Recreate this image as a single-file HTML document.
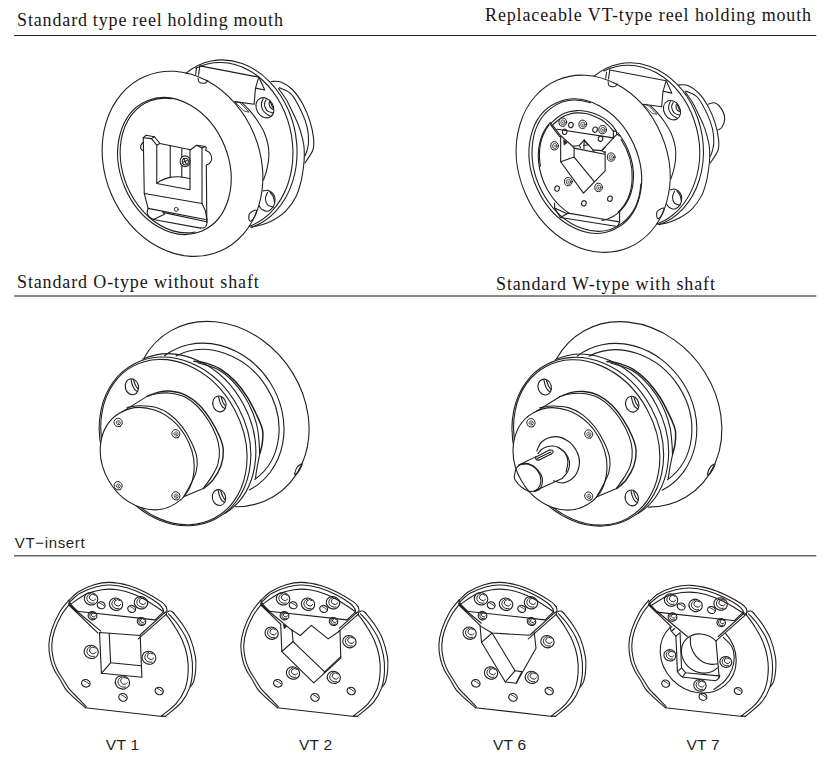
<!DOCTYPE html>
<html><head><meta charset="utf-8">
<style>
html,body{margin:0;padding:0;background:#fff;}
body{width:831px;height:770px;position:relative;overflow:hidden;font-family:"Liberation Serif",serif;color:#1a1414;}
.t{position:absolute;white-space:nowrap;font-size:18px;letter-spacing:0.87px;word-spacing:-0.5px;line-height:20px;}
.s{position:absolute;white-space:nowrap;font-family:"Liberation Sans",sans-serif;font-size:15.5px;letter-spacing:0.3px;line-height:18px;color:#231f20;}
svg{position:absolute;left:0;top:0;}
</style></head><body>
<div class="t" style="left:17px;top:10px;">Standard type reel holding mouth</div>
<div class="t" style="left:485px;top:5px;word-spacing:0.25px;">Replaceable VT-type reel holding mouth</div>
<div class="t" style="left:17px;top:272px;word-spacing:0px;">Standard O-type without shaft</div>
<div class="t" style="left:496px;top:274px;word-spacing:0px;">Standard W-type with shaft</div>
<div class="s" style="left:14.8px;top:534px;font-size:15px;letter-spacing:0.65px;">VT−insert</div>
<div class="s" style="left:105.8px;top:736.3px;">VT 1</div>
<div class="s" style="left:298.9px;top:736.3px;">VT 2</div>
<div class="s" style="left:492.9px;top:736.3px;">VT 6</div>
<div class="s" style="left:686.4px;top:736.3px;">VT 7</div>
<svg width="831" height="770" viewBox="0 0 831 770" fill="none" stroke="#241d1d" stroke-width="1.1" stroke-linecap="round" stroke-linejoin="round">
<path d="M14 35.5H816.3" stroke="#2a2222" stroke-width="1.2" stroke-linecap="butt"/>
<path d="M14 296H816.3" stroke="#6a6565" stroke-width="1.6" stroke-linecap="butt"/>
<path d="M14 555.8H816.3" stroke="#6a6565" stroke-width="1.5" stroke-linecap="butt"/>
<g id="d1">
<path d="M219.66 251.34 A95.1 77.4 67 1 1 145.34 76.26 A95.1 77.4 67 1 1 219.66 251.34 Z"/>
<path d="M242.2 103.1 C243.42 104.32 247.07 107.63 249.5 110.4 C251.93 113.17 254.37 116.07 256.8 119.7 C259.23 123.33 262.2 127.87 264.1 132.2 C266 136.53 267.43 141.37 268.2 145.7 C268.97 150.03 268.97 154.05 268.7 158.2 C268.43 162.35 267.47 166.97 266.6 170.6 C265.73 174.23 264.02 178.43 263.5 180"/>
<path d="M201.42 231.23 A70.6 54 67.5 1 1 147.38 100.77 A70.6 54 67.5 1 1 201.42 231.23 Z"/>
<path d="M195.29 231.99 A69.6 52.8 67.5 1 1 172.18 98.68"/>
<path d="M185.85 73.35 A85.7 68.6 79.3 1 1 251.81 227.13"/>
<path d="M195.78 68.26 A84 66.6 79.3 1 1 249.16 226.32"/>
<path d="M278.6 88.6 C279.92 90.5 284.12 95.95 286.5 100 C288.88 104.05 290.98 108.9 292.9 112.9 C294.82 116.9 296.58 120.43 298 124 C299.42 127.57 300.43 130.8 301.4 134.3 C302.37 137.8 303.32 141.45 303.8 145 C304.28 148.55 304.33 152.1 304.3 155.6 C304.27 159.1 304.15 161.67 303.6 166 C303.05 170.33 302.3 176.42 301 181.6 C299.7 186.78 298.38 192.13 295.8 197.1 C293.22 202.07 289.38 207.5 285.5 211.4 C281.62 215.3 276.42 218.27 272.5 220.5 C268.58 222.73 265.68 223.67 262 224.8 C258.32 225.93 252.33 226.88 250.4 227.3"/>
<path d="M271.43 81.43 C273.1 81.55 277.86 80.71 281.43 82.14 C285 83.57 289.29 86.31 292.86 90 C296.43 93.69 300 99.05 302.86 104.29 C305.71 109.52 308.21 115.71 310 121.43 C311.79 127.14 313.1 133.81 313.57 138.57 C314.05 143.33 314.29 145.95 312.86 150 C311.43 154.05 306.31 160.71 305 162.86"/>
<path d="M279.29 87.86 C281.31 88.93 287.74 90.36 291.43 94.29 C295.12 98.21 298.81 105.95 301.43 111.43 C304.05 116.9 305.95 122.14 307.14 127.14 C308.33 132.14 308.57 137.62 308.57 141.43 C308.57 145.24 307.74 147.62 307.14 150 C306.55 152.38 305.36 154.76 305 155.71"/>
<path d="M270.2 116.98 A10.6 8.4 60 1 1 259.6 98.62 A10.6 8.4 60 1 1 270.2 116.98 Z"/>
<path d="M263.2 98.9 C262.9 99.68 261.55 101.9 261.4 103.6 C261.25 105.3 261.62 107.5 262.3 109.1 C262.98 110.7 264.22 112.07 265.5 113.2 C266.78 114.33 269.25 115.45 270 115.9"/>
<path d="M266.1 99.8 C265.83 100.43 264.6 102.2 264.5 103.6 C264.4 105 264.88 106.9 265.5 108.2 C266.12 109.5 267 110.65 268.2 111.4 C269.4 112.15 271.95 112.48 272.7 112.7"/>
<path d="M269.5 101.4 C269.43 101.92 268.93 103.45 269.1 104.5 C269.27 105.55 269.82 106.87 270.5 107.7 C271.18 108.53 272.75 109.2 273.2 109.5"/>
<path d="M270.5 102.3 C270.72 102.83 271.32 104.52 271.8 105.5 C272.28 106.48 273.13 107.75 273.4 108.2"/>
<path d="M263.12 190.91 C263.92 190.82 266.26 189.89 267.92 190.39 C269.59 190.89 271.93 192.45 273.12 193.9 C274.31 195.35 275 197.03 275.06 199.09 C275.13 201.15 274.7 204.22 273.51 206.23 C272.32 208.25 269.83 210.63 267.92 211.17 C266.02 211.71 263.53 210.35 262.08 209.48 C260.63 208.61 259.7 206.56 259.22 205.97"/>
<path d="M267.53 192.34 C267.19 193.35 265.45 196.34 265.45 198.44 C265.45 200.54 266.26 203.48 267.53 204.94 C268.81 206.39 272.19 206.77 273.12 207.14"/>
<path d="M270.13 192.34 C270.65 193.07 272.51 195.09 273.25 196.75 C273.98 198.42 274.33 201.41 274.55 202.34"/>
<path d="M248.83 217.92 C248.72 216.62 248.51 214.68 249.74 213.38 C250.97 212.08 255.37 209.7 256.23 210.13 C257.1 210.56 255.91 214.13 254.94 215.97 C253.96 217.81 251.41 220.84 250.39 221.17 C249.37 221.49 248.94 219.22 248.83 217.92Z"/>
<path d="M199.86 65.88 L258.76 77.14 L255.45 88.39 L254.13 104.27 L234.93 101.62"/>
<path d="M199.86 65.88 L198.53 75.15"/>
<path d="M196.55 67.87 L195.62 74.49"/>
<path d="M255.72 88.12 L264.72 89.98 L259.03 77.4"/>
<path d="M235.2 102.02 L239.83 102.68 L249.1 112.21 L244.6 111.16Z" stroke-width="0.8"/>
<path d="M198.13 78.06 C198.31 78.75 198.02 81.33 199.19 82.17 C200.36 83 203.72 83.38 205.15 83.09 C206.58 82.81 207.36 80.89 207.8 80.45"/>
<path d="M143.29 137.7 L146.18 135.29 L154.36 136.74 L159.94 143.47 L190.45 149.73 L196.71 145.21 L205.37 146.55 L206.33 147.81 L205.85 150.21"/>
<path d="M143.29 137.7 L151.47 138.66 L154.36 136.74"/>
<path d="M151.47 138.66 L156.77 145.21 L159.94 143.47"/>
<path d="M156.77 145.21 L156.77 183.42 L189.97 189.67 L189.97 150.4"/>
<path d="M196.71 145.21 L202 147.9 L205.37 146.55"/>
<path d="M170.24 146.36 L170.24 177.35"/>
<path d="M181.79 148.77 L181.79 156.95"/>
<path d="M181.79 165.8 L181.79 176.97"/>
<path d="M156.77 183.42 C157.41 182.98 159.25 181.57 160.62 180.82 C161.98 180.06 163.34 179.47 164.95 178.89 C166.55 178.32 168.32 177.71 170.24 177.35 C172.17 177 174.57 176.84 176.5 176.78 C178.42 176.71 179.55 176.66 181.79 176.97 C184.04 177.27 188.61 178.33 189.97 178.6"/>
<path d="M205.85 150.21 C206.5 150.66 208.73 151.54 209.7 152.91 C210.68 154.27 211.72 156.68 211.72 158.39 C211.72 160.11 210.6 162.08 209.7 163.21 C208.81 164.33 206.9 164.81 206.33 165.13"/>
<path d="M143 142.32 C142.65 142.83 141.24 144.32 140.89 145.4 C140.53 146.47 140.53 147.89 140.89 148.77 C141.24 149.65 142.65 150.37 143 150.69"/>
<path d="M190.16 161.28 A5 5.4 0 1 1 180.16 161.28 A5 5.4 0 1 1 190.16 161.28 Z"/>
<path d="M188.36 161.58 A3 3.4 0 1 1 182.36 161.58 A3 3.4 0 1 1 188.36 161.58 Z"/>
<path d="M184.01 158.87 L186.12 163.69"/>
<path d="M183.24 162.24 L187.09 160.61"/>
<path d="M143.29 137.7 L144.26 193.47"/>
<path d="M202 147.9 L202 203.58"/>
<path d="M206.33 165.13 L206.82 222.35"/>
<path d="M148.11 208.39 L144.26 193.47 L202 203.58 L205.37 210.8 L206.82 218.98"/>
<path d="M148.11 208.39 L205.37 219.46"/>
<path d="M163.99 212.63 L206.62 221.67"/>
<path d="M148.11 208.39 C147.95 209.11 146.9 211.28 147.14 212.72 C147.38 214.17 148.51 215.93 149.55 217.05 C150.59 218.18 152.76 219.06 153.4 219.46"/>
<path d="M162.54 211.57 L164.47 214.17 L153.4 219.46 L200.56 228.12"/>
<path d="M200.56 228.12 C201.28 227.99 203.85 228.08 204.89 227.35 C205.93 226.63 206.5 225.27 206.82 223.79 C207.14 222.32 206.82 219.38 206.82 218.5"/>
<path d="M178.31 209.36 A2 2 0 1 1 174.31 209.36 A2 2 0 1 1 178.31 209.36 Z" stroke-width="0.9"/>
</g>
<g id="d2">
<g transform="translate(418.5,7) scale(0.957)" stroke-width="1.1">
<path d="M219.66 251.34 A95.1 77.4 67 1 1 145.34 76.26 A95.1 77.4 67 1 1 219.66 251.34 Z"/>
<path d="M242.2 103.1 C243.42 104.32 247.07 107.63 249.5 110.4 C251.93 113.17 254.37 116.07 256.8 119.7 C259.23 123.33 262.2 127.87 264.1 132.2 C266 136.53 267.43 141.37 268.2 145.7 C268.97 150.03 268.97 154.05 268.7 158.2 C268.43 162.35 267.47 166.97 266.6 170.6 C265.73 174.23 264.02 178.43 263.5 180"/>
<path d="M183.51 72.22 A86.8 70.4 79 1 1 251.61 227.53"/>
<path d="M193.72 66.94 A85.1 68.4 79 1 1 248.95 226.72"/>
<path d="M278.6 88.6 C279.92 90.5 284.12 95.95 286.5 100 C288.88 104.05 290.98 108.9 292.9 112.9 C294.82 116.9 296.58 120.43 298 124 C299.42 127.57 300.43 130.8 301.4 134.3 C302.37 137.8 303.32 141.45 303.8 145 C304.28 148.55 304.33 152.1 304.3 155.6 C304.27 159.1 304.15 161.67 303.6 166 C303.05 170.33 302.3 176.42 301 181.6 C299.7 186.78 298.38 192.13 295.8 197.1 C293.22 202.07 289.38 207.5 285.5 211.4 C281.62 215.3 276.42 218.27 272.5 220.5 C268.58 222.73 265.68 223.67 262 224.8 C258.32 225.93 252.33 226.88 250.4 227.3"/>
<path d="M271.43 81.43 C273.1 81.55 277.86 80.71 281.43 82.14 C285 83.57 289.29 86.31 292.86 90 C296.43 93.69 300 99.05 302.86 104.29 C305.71 109.52 308.21 115.71 310 121.43 C311.79 127.14 313.1 133.81 313.57 138.57 C314.05 143.33 314.29 145.95 312.86 150 C311.43 154.05 306.31 160.71 305 162.86"/>
<path d="M279.29 87.86 C281.31 88.93 287.74 90.36 291.43 94.29 C295.12 98.21 298.81 105.95 301.43 111.43 C304.05 116.9 305.95 122.14 307.14 127.14 C308.33 132.14 308.57 137.62 308.57 141.43 C308.57 145.24 307.74 147.62 307.14 150 C306.55 152.38 305.36 154.76 305 155.71"/>
<path d="M270.2 116.98 A10.6 8.4 60 1 1 259.6 98.62 A10.6 8.4 60 1 1 270.2 116.98 Z"/>
<path d="M263.2 98.9 C262.9 99.68 261.55 101.9 261.4 103.6 C261.25 105.3 261.62 107.5 262.3 109.1 C262.98 110.7 264.22 112.07 265.5 113.2 C266.78 114.33 269.25 115.45 270 115.9"/>
<path d="M266.1 99.8 C265.83 100.43 264.6 102.2 264.5 103.6 C264.4 105 264.88 106.9 265.5 108.2 C266.12 109.5 267 110.65 268.2 111.4 C269.4 112.15 271.95 112.48 272.7 112.7"/>
<path d="M269.5 101.4 C269.43 101.92 268.93 103.45 269.1 104.5 C269.27 105.55 269.82 106.87 270.5 107.7 C271.18 108.53 272.75 109.2 273.2 109.5"/>
<path d="M270.5 102.3 C270.72 102.83 271.32 104.52 271.8 105.5 C272.28 106.48 273.13 107.75 273.4 108.2"/>
<path d="M263.12 190.91 C263.92 190.82 266.26 189.89 267.92 190.39 C269.59 190.89 271.93 192.45 273.12 193.9 C274.31 195.35 275 197.03 275.06 199.09 C275.13 201.15 274.7 204.22 273.51 206.23 C272.32 208.25 269.83 210.63 267.92 211.17 C266.02 211.71 263.53 210.35 262.08 209.48 C260.63 208.61 259.7 206.56 259.22 205.97"/>
<path d="M267.53 192.34 C267.19 193.35 265.45 196.34 265.45 198.44 C265.45 200.54 266.26 203.48 267.53 204.94 C268.81 206.39 272.19 206.77 273.12 207.14"/>
<path d="M270.13 192.34 C270.65 193.07 272.51 195.09 273.25 196.75 C273.98 198.42 274.33 201.41 274.55 202.34"/>
<path d="M248.83 217.92 C248.72 216.62 248.51 214.68 249.74 213.38 C250.97 212.08 255.37 209.7 256.23 210.13 C257.1 210.56 255.91 214.13 254.94 215.97 C253.96 217.81 251.41 220.84 250.39 221.17 C249.37 221.49 248.94 219.22 248.83 217.92Z"/>
<path d="M199.86 65.88 L258.76 77.14 L255.45 88.39 L254.13 104.27 L234.93 101.62"/>
<path d="M199.86 65.88 L198.53 75.15"/>
<path d="M196.55 67.87 L195.62 74.49"/>
<path d="M255.72 88.12 L264.72 89.98 L259.03 77.4"/>
<path d="M235.2 102.02 L239.83 102.68 L249.1 112.21 L244.6 111.16Z" stroke-width="0.8"/>
<path d="M198.13 78.06 C198.31 78.75 198.02 81.33 199.19 82.17 C200.36 83 203.72 83.38 205.15 83.09 C206.58 82.81 207.36 80.89 207.8 80.45"/>
</g>
<path d="M708.1 104.2 C709.3 104.02 712.9 102.03 715.3 103.1 C717.7 104.17 720.93 107.9 722.5 110.6 C724.07 113.3 724.82 116.48 724.7 119.3 C724.58 122.12 722.92 125.77 721.8 127.5 C720.68 129.23 718.63 129.33 718 129.7"/>
<path d="M613.9 229.44 A69.5 52.7 65.7 1 1 556.7 102.76 A69.5 52.7 65.7 1 1 613.9 229.44 Z"/>
<path d="M640.85 183.95 A68 51.3 65.7 1 1 590.4 102.82"/>
<path d="M568.4 212.74 A57.3 45.1 64.5 0 1 550.31 122.32"/>
<path d="M617.75 132.48 A57.3 45.1 64.5 0 1 602.07 220.53"/>
<path d="M621.07 139.22 A57.3 45.1 64.5 0 1 618.18 211.98"/>
<path d="M540.41 166.26 A57.3 45.1 64.5 0 1 548.89 125.14"/>
<path d="M550.99 123.16 C551.59 122.61 552.92 121.21 554.6 119.84 C556.29 118.47 558.81 116.23 561.1 114.93 C563.39 113.63 565.67 112.76 568.32 112.04 C570.97 111.32 574.1 110.74 576.99 110.6 C579.87 110.45 582.76 110.69 585.65 111.17 C588.54 111.65 591.31 112.33 594.31 113.48 C597.32 114.64 600.81 116.25 603.7 118.1 C606.59 119.96 609.55 122.44 611.64 124.6 C613.74 126.77 615.49 130.02 616.26 131.1"/>
<path d="M553.16 124.31 C554.72 123.09 559.78 118.66 562.55 116.95 C565.31 115.24 567.36 114.74 569.77 114.06 C572.17 113.39 574.34 113 576.99 112.91 C579.63 112.81 583 113.03 585.65 113.48 C588.3 113.94 590.22 114.59 592.87 115.65 C595.52 116.71 599.01 118.27 601.53 119.84 C604.06 121.4 606.06 123.16 608.03 125.04 C610.01 126.91 612.48 130.09 613.38 131.1"/>
<path d="M613.38 131.1 L616.26 131.1 L616.84 134.28 L613.38 137.89"/>
<path d="M613.38 131.1 L613.38 137.89"/>
<path d="M557.06 129.22 L613.38 137.89"/>
<path d="M550.99 123.16 L560.67 135.72 L560.67 161.71 L583.48 193.19 L605.14 170.81 L605.14 151.61"/>
<path d="M549.98 123.88 L559.66 136.59"/>
<path d="M613.38 137.89 L602.26 150.16"/>
<path d="M616.84 134.28 L620.31 136.16"/>
<path d="M560.67 135.72 L572.65 146.26 L579.15 145.54 L584.21 139.77 L592.87 149.87 L601.53 150.6 L605.14 146.99"/>
<path d="M574.1 148.14 L604.71 154.21"/>
<path d="M572.65 146.26 L574.1 148.14 L574.1 157.09 L560.67 161.71"/>
<path d="M574.1 157.09 L594.31 181.64"/>
<path d="M579.15 145.54 L580.6 147.71"/>
<path d="M584.21 139.77 L583.92 148.72"/>
<path d="M583.48 145.54 L588.54 144.82 L584.21 140.92"/>
<path d="M592.87 149.87 L594.03 151.61"/>
<path d="M601.53 150.6 L604.71 152.47"/>
<path d="M563.7 140.05 L567.17 142.8 L564.28 144.96Z" stroke-width="0.6" fill="#241d1d"/>
<path d="M566.7 122.15 A3.86 4.2 0 1 1 558.97 122.15 A3.86 4.2 0 1 1 566.7 122.15 Z" stroke-width="1"/>
<path d="M565.17 122.35 A2.18 2.52 0 1 1 560.8 122.35 A2.18 2.52 0 1 1 565.17 122.35 Z" stroke-width="0.75"/>
<path d="M563.65 123.04 A0.67 0.92 0 1 1 563.47 121.65" stroke-width="0.7"/>
<path d="M586.63 124.31 A3.86 4.2 0 1 1 578.9 124.31 A3.86 4.2 0 1 1 586.63 124.31 Z" stroke-width="1"/>
<path d="M585.1 124.51 A2.18 2.52 0 1 1 580.73 124.51 A2.18 2.52 0 1 1 585.1 124.51 Z" stroke-width="0.75"/>
<path d="M583.58 125.21 A0.67 0.92 0 1 1 583.4 123.81" stroke-width="0.7"/>
<path d="M606.55 129.66 A3.86 4.2 0 1 1 598.83 129.66 A3.86 4.2 0 1 1 606.55 129.66 Z" stroke-width="1"/>
<path d="M605.02 129.86 A2.18 2.52 0 1 1 600.66 129.86 A2.18 2.52 0 1 1 605.02 129.86 Z" stroke-width="0.75"/>
<path d="M603.5 130.55 A0.67 0.92 0 1 1 603.33 129.16" stroke-width="0.7"/>
<path d="M558.47 145.83 A3.86 4.2 0 1 1 550.74 145.83 A3.86 4.2 0 1 1 558.47 145.83 Z" stroke-width="1"/>
<path d="M556.94 146.03 A2.18 2.52 0 1 1 552.57 146.03 A2.18 2.52 0 1 1 556.94 146.03 Z" stroke-width="0.75"/>
<path d="M555.42 146.72 A0.67 0.92 0 1 1 555.24 145.33" stroke-width="0.7"/>
<path d="M615.07 157.09 A3.86 4.2 0 1 1 607.35 157.09 A3.86 4.2 0 1 1 615.07 157.09 Z" stroke-width="1"/>
<path d="M613.54 157.29 A2.18 2.52 0 1 1 609.18 157.29 A2.18 2.52 0 1 1 613.54 157.29 Z" stroke-width="0.75"/>
<path d="M612.02 157.99 A0.67 0.92 0 1 1 611.85 156.59" stroke-width="0.7"/>
<path d="M572.19 181.64 A3.86 4.2 0 1 1 564.46 181.64 A3.86 4.2 0 1 1 572.19 181.64 Z" stroke-width="1"/>
<path d="M570.66 181.84 A2.18 2.52 0 1 1 566.29 181.84 A2.18 2.52 0 1 1 570.66 181.84 Z" stroke-width="0.75"/>
<path d="M569.14 182.54 A0.67 0.92 0 1 1 568.96 181.14" stroke-width="0.7"/>
<path d="M602.51 187.42 A3.86 4.2 0 1 1 594.78 187.42 A3.86 4.2 0 1 1 602.51 187.42 Z" stroke-width="1"/>
<path d="M600.98 187.62 A2.18 2.52 0 1 1 596.61 187.62 A2.18 2.52 0 1 1 600.98 187.62 Z" stroke-width="0.75"/>
<path d="M599.46 188.31 A0.67 0.92 0 1 1 599.28 186.92" stroke-width="0.7"/>
<path d="M573.14 125.63 A2.29 2.7 15 1 1 568.7 124.44 A2.29 2.7 15 1 1 573.14 125.63 Z"/>
<path d="M597.25 130.25 A2.29 2.7 15 1 1 592.82 129.06 A2.29 2.7 15 1 1 597.25 130.25 Z"/>
<path d="M566.93 132.42 A2.29 2.7 15 1 1 562.49 131.23 A2.29 2.7 15 1 1 566.93 132.42 Z"/>
<path d="M602.74 139.35 A2.29 2.7 15 1 1 598.31 138.16 A2.29 2.7 15 1 1 602.74 139.35 Z"/>
<path d="M559.27 189.17 A2.29 2.7 15 1 1 554.84 187.98 A2.29 2.7 15 1 1 559.27 189.17 Z"/>
<path d="M612.13 199.28 A2.29 2.7 15 1 1 607.69 198.09 A2.29 2.7 15 1 1 612.13 199.28 Z"/>
<path d="M586.13 203.9 A2.29 2.7 15 1 1 581.7 202.71 A2.29 2.7 15 1 1 586.13 203.9 Z"/>
<path d="M568.32 213.1 L602.26 219.03"/>
<path d="M554.6 203.14 L554.6 208.05 L560.38 217.58 L617.42 226.53 L619.58 222.2 L619.58 210.65"/>
<path d="M560.38 217.58 L568.32 213.1"/>
<path d="M554.6 208.05 L566.88 213.83"/>
<path d="M602.26 219.03 L619.58 221.91"/>
</g>
<g id="d3">
<path d="M143.88 358.17 A97.6 82.2 54.6 1 1 235.35 506.82"/>
<path d="M294.82 473.05 C295.11 471.85 295.93 468.81 297.13 467.27 C298.33 465.73 301.7 463.26 302.04 463.81 C302.38 464.36 300.26 468.81 299.15 470.6 C298.04 472.38 296.12 474.09 295.4 474.49 C294.68 474.9 294.53 474.25 294.82 473.05Z"/>
<path d="M164.49 355.79 A79.6 69.8 57.9 1 1 249.37 489.95"/>
<path d="M176.08 355.9 A73.4 63.4 54.5 0 1 254.72 479.46"/>
<path d="M194.1 361.2 C196.1 361.52 201.7 361.78 206.1 363.1 C210.5 364.42 215.68 366.1 220.5 369.1 C225.32 372.1 230.58 376.5 235 381.1 C239.42 385.7 243.4 391.08 247 396.7 C250.6 402.32 254.27 410.08 256.6 414.8 C258.93 419.52 259.97 422.13 261 425 C262.03 427.87 262.6 428.83 262.8 432 C263 435.17 262.68 440.45 262.2 444 C261.72 447.55 260.28 451.75 259.9 453.3" stroke-width="1.5"/>
<path d="M198 362.8 C201.33 363.92 212.25 366.47 218 369.5 C223.75 372.53 228.17 376.67 232.5 381 C236.83 385.33 240.67 390.33 244 395.5 C247.33 400.67 250.27 406.58 252.5 412 C254.73 417.42 256.28 422.67 257.4 428 C258.52 433.33 258.83 439.83 259.2 444 C259.57 448.17 259.53 451.5 259.6 453"/>
<path d="M259.9 453.3 C259.42 455.75 257.73 463.88 257 468 C256.27 472.12 255.75 476.33 255.5 478"/>
<path d="M216.35 518.51 A87.5 71.3 61.8 1 1 133.65 364.29 A87.5 71.3 61.8 1 1 216.35 518.51 Z"/>
<path d="M214.63 518.07 A86.2 68.6 61.8 1 1 133.17 366.13 A86.2 68.6 61.8 1 1 214.63 518.07 Z"/>
<path d="M142.57 359.28 A87.5 71.3 61.8 0 1 225.15 513.3"/>
<path d="M147 396.4 C148.95 395.68 154.67 392.97 158.7 392.1 C162.73 391.23 166.78 390.75 171.2 391.2 C175.62 391.65 180.53 392.52 185.2 394.8 C189.87 397.08 195.05 400.88 199.2 404.9 C203.35 408.92 206.73 413.7 210.1 418.9 C213.47 424.1 217.2 430.9 219.4 436.1 C221.6 441.3 223.03 445.17 223.3 450.1 C223.57 455.03 222.68 460.77 221 465.7 C219.32 470.63 216.05 475.93 213.2 479.7 C210.35 483.47 205.45 486.87 203.9 488.3" stroke-width="1.4"/>
<path d="M150.9 394.8 C152.42 394.53 156.62 393.47 160 393.2 C163.38 392.93 167 392.55 171.2 393.2 C175.4 393.85 180.8 394.88 185.2 397.1 C189.6 399.32 193.72 402.6 197.6 406.5 C201.48 410.4 205.38 415.57 208.5 420.5 C211.62 425.43 214.48 431.17 216.3 436.1 C218.12 441.03 219.13 445.43 219.4 450.1 C219.67 454.77 219.18 459.68 217.9 464.1 C216.62 468.52 214.03 472.7 211.7 476.6 C209.37 480.5 205.2 485.68 203.9 487.5"/>
<path d="M147 396.4 L114.5 416.6"/>
<path d="M183.6 496.8 L203.9 488.3"/>
<path d="M133.97 394.53 A8 6.6 75 1 1 129.83 379.07 A8 6.6 75 1 1 133.97 394.53 Z"/>
<path d="M131.1 379.8 C131.33 380.72 131.87 383.63 132.5 385.3 C133.13 386.97 134.07 388.78 134.9 389.8 C135.73 390.82 137.07 391.13 137.5 391.4"/>
<path d="M133.7 380.2 C134 381.05 134.82 383.87 135.5 385.3 C136.18 386.73 137.42 388.22 137.8 388.8"/>
<path d="M221.47 411.63 A8 6.6 75 1 1 217.33 396.17 A8 6.6 75 1 1 221.47 411.63 Z"/>
<path d="M218.6 396.9 C218.83 397.82 219.37 400.73 220 402.4 C220.63 404.07 221.57 405.88 222.4 406.9 C223.23 407.92 224.57 408.23 225 408.5"/>
<path d="M221.2 397.3 C221.5 398.15 222.32 400.97 223 402.4 C223.68 403.83 224.92 405.32 225.3 405.9"/>
<path d="M221.07 505.33 A8 6.6 75 1 1 216.93 489.87 A8 6.6 75 1 1 221.07 505.33 Z"/>
<path d="M218.2 490.6 C218.43 491.52 218.97 494.43 219.6 496.1 C220.23 497.77 221.17 499.58 222 500.6 C222.83 501.62 224.17 501.93 224.6 502.2"/>
<path d="M220.8 491 C221.1 491.85 221.92 494.67 222.6 496.1 C223.28 497.53 224.52 499.02 224.9 499.6"/>
<path d="M174.68 504.15 A53.2 43.9 58.9 1 1 119.72 413.05 A53.2 43.9 58.9 1 1 174.68 504.15 Z" fill="#fff"/>
<path d="M127 407.5 C129.17 407.2 135.23 405.73 140 405.7 C144.77 405.67 150.67 405.87 155.6 407.3 C160.53 408.73 165.18 411.07 169.6 414.3 C174.02 417.53 178.47 422.03 182.1 426.7 C185.73 431.37 188.93 437.1 191.4 442.3 C193.87 447.5 196.12 452.97 196.9 457.9 C197.68 462.83 197.28 467.23 196.1 471.9 C194.92 476.57 191.88 481.75 189.8 485.9 C187.72 490.05 184.63 494.98 183.6 496.8"/>
<path d="M120.31 426.23 A4.3 3.96 60 1 1 116.01 418.79 A4.3 3.96 60 1 1 120.31 426.23 Z" stroke-width="1"/>
<path d="M119.43 424.57 A2.15 1.98 60 1 1 117.28 420.85 A2.15 1.98 60 1 1 119.43 424.57 Z" stroke-width="0.75"/>
<path d="M119.05 423.31 A0.77 0.77 0 1 1 118.85 422.14" stroke-width="0.7"/>
<path d="M178.07 437.5 A4.3 3.96 60 1 1 173.77 430.05 A4.3 3.96 60 1 1 178.07 437.5 Z" stroke-width="1"/>
<path d="M177.2 435.83 A2.15 1.98 60 1 1 175.05 432.11 A2.15 1.98 60 1 1 177.2 435.83 Z" stroke-width="0.75"/>
<path d="M176.81 434.57 A0.77 0.77 0 1 1 176.61 433.4" stroke-width="0.7"/>
<path d="M120.31 489.48 A4.3 3.96 60 1 1 116.01 482.03 A4.3 3.96 60 1 1 120.31 489.48 Z" stroke-width="1"/>
<path d="M119.43 487.82 A2.15 1.98 60 1 1 117.28 484.1 A2.15 1.98 60 1 1 119.43 487.82 Z" stroke-width="0.75"/>
<path d="M119.05 486.56 A0.77 0.77 0 1 1 118.85 485.39" stroke-width="0.7"/>
<path d="M178.07 499.59 A4.3 3.96 60 1 1 173.77 492.14 A4.3 3.96 60 1 1 178.07 499.59 Z" stroke-width="1"/>
<path d="M177.2 497.93 A2.15 1.98 60 1 1 175.05 494.2 A2.15 1.98 60 1 1 177.2 497.93 Z" stroke-width="0.75"/>
<path d="M176.81 496.66 A0.77 0.77 0 1 1 176.61 495.5" stroke-width="0.7"/>
</g>
<g id="d4">
<g transform="translate(412.8,0.3)">
<path d="M143.88 358.17 A97.6 82.2 54.6 1 1 235.35 506.82"/>
<path d="M294.82 473.05 C295.11 471.85 295.93 468.81 297.13 467.27 C298.33 465.73 301.7 463.26 302.04 463.81 C302.38 464.36 300.26 468.81 299.15 470.6 C298.04 472.38 296.12 474.09 295.4 474.49 C294.68 474.9 294.53 474.25 294.82 473.05Z"/>
<path d="M164.49 355.79 A79.6 69.8 57.9 1 1 249.37 489.95"/>
<path d="M176.08 355.9 A73.4 63.4 54.5 0 1 254.72 479.46"/>
<path d="M194.1 361.2 C196.1 361.52 201.7 361.78 206.1 363.1 C210.5 364.42 215.68 366.1 220.5 369.1 C225.32 372.1 230.58 376.5 235 381.1 C239.42 385.7 243.4 391.08 247 396.7 C250.6 402.32 254.27 410.08 256.6 414.8 C258.93 419.52 259.97 422.13 261 425 C262.03 427.87 262.6 428.83 262.8 432 C263 435.17 262.68 440.45 262.2 444 C261.72 447.55 260.28 451.75 259.9 453.3" stroke-width="1.5"/>
<path d="M198 362.8 C201.33 363.92 212.25 366.47 218 369.5 C223.75 372.53 228.17 376.67 232.5 381 C236.83 385.33 240.67 390.33 244 395.5 C247.33 400.67 250.27 406.58 252.5 412 C254.73 417.42 256.28 422.67 257.4 428 C258.52 433.33 258.83 439.83 259.2 444 C259.57 448.17 259.53 451.5 259.6 453"/>
<path d="M259.9 453.3 C259.42 455.75 257.73 463.88 257 468 C256.27 472.12 255.75 476.33 255.5 478"/>
<path d="M216.35 518.51 A87.5 71.3 61.8 1 1 133.65 364.29 A87.5 71.3 61.8 1 1 216.35 518.51 Z"/>
<path d="M214.63 518.07 A86.2 68.6 61.8 1 1 133.17 366.13 A86.2 68.6 61.8 1 1 214.63 518.07 Z"/>
<path d="M142.57 359.28 A87.5 71.3 61.8 0 1 225.15 513.3"/>
<path d="M147 396.4 C148.95 395.68 154.67 392.97 158.7 392.1 C162.73 391.23 166.78 390.75 171.2 391.2 C175.62 391.65 180.53 392.52 185.2 394.8 C189.87 397.08 195.05 400.88 199.2 404.9 C203.35 408.92 206.73 413.7 210.1 418.9 C213.47 424.1 217.2 430.9 219.4 436.1 C221.6 441.3 223.03 445.17 223.3 450.1 C223.57 455.03 222.68 460.77 221 465.7 C219.32 470.63 216.05 475.93 213.2 479.7 C210.35 483.47 205.45 486.87 203.9 488.3" stroke-width="1.4"/>
<path d="M150.9 394.8 C152.42 394.53 156.62 393.47 160 393.2 C163.38 392.93 167 392.55 171.2 393.2 C175.4 393.85 180.8 394.88 185.2 397.1 C189.6 399.32 193.72 402.6 197.6 406.5 C201.48 410.4 205.38 415.57 208.5 420.5 C211.62 425.43 214.48 431.17 216.3 436.1 C218.12 441.03 219.13 445.43 219.4 450.1 C219.67 454.77 219.18 459.68 217.9 464.1 C216.62 468.52 214.03 472.7 211.7 476.6 C209.37 480.5 205.2 485.68 203.9 487.5"/>
<path d="M147 396.4 L114.5 416.6"/>
<path d="M183.6 496.8 L203.9 488.3"/>
<path d="M133.97 394.53 A8 6.6 75 1 1 129.83 379.07 A8 6.6 75 1 1 133.97 394.53 Z"/>
<path d="M131.1 379.8 C131.33 380.72 131.87 383.63 132.5 385.3 C133.13 386.97 134.07 388.78 134.9 389.8 C135.73 390.82 137.07 391.13 137.5 391.4"/>
<path d="M133.7 380.2 C134 381.05 134.82 383.87 135.5 385.3 C136.18 386.73 137.42 388.22 137.8 388.8"/>
<path d="M221.47 411.63 A8 6.6 75 1 1 217.33 396.17 A8 6.6 75 1 1 221.47 411.63 Z"/>
<path d="M218.6 396.9 C218.83 397.82 219.37 400.73 220 402.4 C220.63 404.07 221.57 405.88 222.4 406.9 C223.23 407.92 224.57 408.23 225 408.5"/>
<path d="M221.2 397.3 C221.5 398.15 222.32 400.97 223 402.4 C223.68 403.83 224.92 405.32 225.3 405.9"/>
<path d="M221.07 505.33 A8 6.6 75 1 1 216.93 489.87 A8 6.6 75 1 1 221.07 505.33 Z"/>
<path d="M218.2 490.6 C218.43 491.52 218.97 494.43 219.6 496.1 C220.23 497.77 221.17 499.58 222 500.6 C222.83 501.62 224.17 501.93 224.6 502.2"/>
<path d="M220.8 491 C221.1 491.85 221.92 494.67 222.6 496.1 C223.28 497.53 224.52 499.02 224.9 499.6"/>
<path d="M174.68 504.15 A53.2 43.9 58.9 1 1 119.72 413.05 A53.2 43.9 58.9 1 1 174.68 504.15 Z" fill="#fff"/>
<path d="M127 407.5 C129.17 407.2 135.23 405.73 140 405.7 C144.77 405.67 150.67 405.87 155.6 407.3 C160.53 408.73 165.18 411.07 169.6 414.3 C174.02 417.53 178.47 422.03 182.1 426.7 C185.73 431.37 188.93 437.1 191.4 442.3 C193.87 447.5 196.12 452.97 196.9 457.9 C197.68 462.83 197.28 467.23 196.1 471.9 C194.92 476.57 191.88 481.75 189.8 485.9 C187.72 490.05 184.63 494.98 183.6 496.8"/>
<path d="M120.31 426.23 A4.3 3.96 60 1 1 116.01 418.79 A4.3 3.96 60 1 1 120.31 426.23 Z" stroke-width="1"/>
<path d="M119.43 424.57 A2.15 1.98 60 1 1 117.28 420.85 A2.15 1.98 60 1 1 119.43 424.57 Z" stroke-width="0.75"/>
<path d="M119.05 423.31 A0.77 0.77 0 1 1 118.85 422.14" stroke-width="0.7"/>
<path d="M178.07 437.5 A4.3 3.96 60 1 1 173.77 430.05 A4.3 3.96 60 1 1 178.07 437.5 Z" stroke-width="1"/>
<path d="M177.2 435.83 A2.15 1.98 60 1 1 175.05 432.11 A2.15 1.98 60 1 1 177.2 435.83 Z" stroke-width="0.75"/>
<path d="M176.81 434.57 A0.77 0.77 0 1 1 176.61 433.4" stroke-width="0.7"/>
<path d="M178.07 499.59 A4.3 3.96 60 1 1 173.77 492.14 A4.3 3.96 60 1 1 178.07 499.59 Z" stroke-width="1"/>
<path d="M177.2 497.93 A2.15 1.98 60 1 1 175.05 494.2 A2.15 1.98 60 1 1 177.2 497.93 Z" stroke-width="0.75"/>
<path d="M176.81 496.66 A0.77 0.77 0 1 1 176.61 495.5" stroke-width="0.7"/>
</g>
<path d="M536.82 451.1 C537.67 449.54 538.87 444.12 541.88 441.71 C544.89 439.31 550.54 436.78 554.87 436.66 C559.21 436.54 564.26 438.59 567.87 440.99 C571.48 443.4 574.61 447.49 576.53 451.1 C578.46 454.71 579.66 458.56 579.42 462.65 C579.18 466.74 577.74 472.28 575.09 475.65 C572.44 479.02 567.15 482.03 563.54 482.87 C559.93 483.71 555.11 481.06 553.43 480.7"/>
<path d="M537.83 453.7 C538.75 452.79 540.72 449.49 543.32 448.21 C545.92 446.94 550.06 445.57 553.43 446.05 C556.8 446.53 560.89 448.57 563.54 451.1 C566.19 453.63 568.59 457.84 569.31 461.21 C570.04 464.58 569.07 468.43 567.87 471.32 C566.67 474.21 563.06 477.33 562.09 478.54"/>
<path d="M557.76 447.06 C558.97 448.02 563.3 450.48 564.98 452.83 C566.67 455.19 567.68 458.01 567.87 461.21 C568.06 464.41 566.43 470.23 566.14 472.04"/>
<path d="M518.48 465.25 L535.52 456.88"/>
<path d="M562.09 478.54 L533.94 491.25"/>
<path d="M514.44 475.65 C514.8 473.48 515.52 469.03 517.33 466.99 C519.13 464.94 522.38 463.26 525.27 463.38 C528.16 463.5 532.13 465.42 534.66 467.71 C537.18 469.99 539.71 473.84 540.43 477.09 C541.16 480.34 540.55 484.8 538.99 487.2 C537.42 489.61 533.94 491.53 531.05 491.53 C528.16 491.53 524.31 489.13 521.66 487.2 C519.01 485.28 516.37 481.91 515.16 479.98 C513.96 478.06 514.08 477.82 514.44 475.65Z"/>
<path d="M519.49 464.82 C521.01 464.7 525.68 463.4 528.59 464.1 C531.5 464.8 534.68 466.6 536.97 469.01 C539.25 471.41 541.78 475.26 542.31 478.54 C542.84 481.81 541.47 486.48 540.14 488.65 C538.82 490.81 535.33 491.05 534.37 491.53"/>
<path d="M535.52 457.17 L549.39 449.95"/>
<path d="M549.39 449.95 C549.87 449.99 551.65 449.9 552.27 450.23 C552.9 450.57 553.24 451.39 553.14 451.97 C553.04 452.55 551.94 453.41 551.7 453.7"/>
<path d="M551.7 453.7 L538.7 460.2"/>
<path d="M538.7 460.2 C538.27 460.08 536.63 459.98 536.1 459.48 C535.57 458.97 535.62 457.55 535.52 457.17"/>
<path d="M537.26 458.61 L550.83 451.97"/>
</g>
<g id="v1">
<path d="M68.9 600.2 C67.3 602.28 62.18 607.72 59.3 612.7 C56.42 617.68 53.33 624.72 51.6 630.1 C49.87 635.48 49.08 640.13 48.9 645 C48.72 649.87 49.55 655.05 50.5 659.3 C51.45 663.55 52.95 667.05 54.6 670.5 C56.25 673.95 58.5 676.8 60.4 680 C62.3 683.2 64.07 687.07 66 689.7 C67.93 692.33 68.78 692.8 72 695.8 C75.22 698.8 83.08 705.72 85.3 707.7"/>
<path d="M70.5 603 C69.05 604.92 64.47 609.92 61.8 614.5 C59.13 619.08 56.17 625.42 54.5 630.5 C52.83 635.58 52.02 640.33 51.8 645 C51.58 649.67 52.27 654.33 53.2 658.5 C54.13 662.67 55.73 666.5 57.4 670 C59.07 673.5 61.3 676.45 63.2 679.5 C65.1 682.55 67 685.88 68.8 688.3 C70.6 690.72 71.1 690.95 74 694 C76.9 697.05 84.17 704.5 86.2 706.6"/>
<path d="M85.3 707.7 L162.5 716.5"/>
<path d="M166.2 614.6 C167.55 616.48 171.6 621.58 174.3 625.9 C177 630.22 180.23 635.35 182.4 640.5 C184.57 645.65 186.35 651.38 187.3 656.8 C188.25 662.22 188.5 667.6 188.1 673 C187.7 678.4 186.93 684.07 184.9 689.2 C182.87 694.33 179.82 699.35 175.9 703.8 C171.98 708.25 163.82 713.88 161.4 715.9"/>
<path d="M168.6 613.8 C170.1 615.55 174.62 620.12 177.6 624.3 C180.58 628.48 184.2 633.77 186.5 638.9 C188.8 644.03 190.4 649.68 191.4 655.1 C192.4 660.52 192.78 665.98 192.5 671.4 C192.22 676.82 191.52 682.47 189.7 687.6 C187.88 692.73 185.65 697.4 181.6 702.2 C177.55 707 168.1 714.03 165.4 716.4"/>
<path d="M173.5 613 C174.98 614.88 179.57 619.98 182.4 624.3 C185.23 628.62 188.33 633.48 190.5 638.9 C192.67 644.32 194.53 651.67 195.4 656.8 C196.27 661.93 195.97 665.65 195.7 669.7 C195.43 673.75 194.7 678.22 193.8 681.1 C192.9 683.98 190.88 686.02 190.3 687"/>
<path d="M161.4 715.9 L165.4 716.4"/>
<path d="M166.22 614.59 C166.35 614.19 166.27 612.76 167.03 612.16 C167.78 611.57 169.59 610.84 170.76 611.03 C171.92 611.22 173.46 612.92 174 613.3"/>
<path d="M69.08 600.34 C70.64 598.9 74.29 594.34 78.47 591.73 C82.64 589.13 88.9 586.26 94.11 584.69 C99.33 583.13 104.02 582.22 109.76 582.35 C115.49 582.48 122.53 583.78 128.53 585.48 C134.53 587.17 140.26 589.78 145.74 592.52 C151.21 595.25 157.99 599.56 161.38 601.9 C164.77 604.25 165.29 605.81 166.08 606.6"/>
<path d="M69.86 601.9 C71.56 600.47 75.73 595.77 80.03 593.3 C84.33 590.82 90.72 588.42 95.68 587.04 C100.63 585.66 104.54 584.88 109.76 585.01 C114.97 585.14 121.23 586.18 126.96 587.82 C132.7 589.46 138.96 592.25 144.17 594.86 C149.39 597.47 155.13 601.12 158.25 603.47 C161.38 605.81 162.17 608.03 162.95 608.94"/>
<path d="M70.64 604.25 C73.25 602.55 81.07 596.51 86.29 594.08 C91.5 591.66 96.72 590.43 101.93 589.7 C107.15 588.97 112.36 588.97 117.58 589.7 C122.79 590.43 128.01 592.05 133.22 594.08 C138.44 596.11 143.91 599.03 148.87 601.9 C153.82 604.77 160.6 609.72 162.95 611.29"/>
<path d="M166.08 606.6 C166.23 607.25 167.28 609.46 167.02 610.51 C166.75 611.55 164.93 612.46 164.51 612.85"/>
<path d="M162.95 608.94 L163.73 612.38"/>
<path d="M69.08 600.34 L69.39 603.78"/>
<path d="M76.9 611.29 L155.13 619.89"/>
<path d="M69.08 603.47 L76.9 611.29" stroke-width="2"/>
<path d="M76.9 611.29 L100.84 631.16"/>
<path d="M69.39 605.5 L98.02 633.19"/>
<path d="M164.51 612.85 L140.26 634.76"/>
<path d="M162.95 612.38 L155.13 619.89"/>
<path d="M166.39 614.11 L138.23 638.82"/>
<path d="M97.39 601.13 A6.8 6.12 20 1 1 84.61 596.47 A6.8 6.12 20 1 1 97.39 601.13 Z"/>
<path d="M94.01 603.08 A5.3 4.9 20 1 1 90.6 593.58" stroke-width="0.95"/>
<path d="M95.73 599.1 A3.4 3.13 20 1 1 94.87 595.08" stroke-width="0.95"/>
<path d="M122.39 606.53 A6.8 6.12 20 1 1 109.61 601.87 A6.8 6.12 20 1 1 122.39 606.53 Z"/>
<path d="M119.01 608.48 A5.3 4.9 20 1 1 115.6 598.98" stroke-width="0.95"/>
<path d="M120.73 604.5 A3.4 3.13 20 1 1 119.87 600.48" stroke-width="0.95"/>
<path d="M147.39 605.03 A6.8 6.12 20 1 1 134.61 600.37 A6.8 6.12 20 1 1 147.39 605.03 Z"/>
<path d="M144.01 606.98 A5.3 4.9 20 1 1 140.6 597.48" stroke-width="0.95"/>
<path d="M145.73 603 A3.4 3.13 20 1 1 144.87 598.98" stroke-width="0.95"/>
<path d="M104.96 606.67 A4 3.44 20 1 1 97.44 603.93 A4 3.44 20 1 1 104.96 606.67 Z"/>
<path d="M99.4 602.82 C99.8 603.03 101.02 603.61 101.8 604.1 C102.58 604.59 103.7 605.5 104.08 605.78" stroke-width="0.9"/>
<path d="M135.46 610.27 A4 3.44 20 1 1 127.94 607.53 A4 3.44 20 1 1 135.46 610.27 Z"/>
<path d="M129.9 606.42 C130.3 606.63 131.52 607.21 132.3 607.7 C133.08 608.19 134.2 609.1 134.58 609.38" stroke-width="0.9"/>
<path d="M96.63 617.2 A4.4 3.96 20 1 1 88.37 614.2 A4.4 3.96 20 1 1 96.63 617.2 Z"/>
<path d="M94.45 618.47 A3.43 3.17 20 1 1 92.24 612.32" stroke-width="0.95"/>
<path d="M95.56 615.89 A2.2 2.02 20 1 1 95 613.29" stroke-width="0.95"/>
<path d="M145.54 622.97 A4.3 3.87 20 1 1 137.46 620.03 A4.3 3.87 20 1 1 145.54 622.97 Z"/>
<path d="M143.4 624.21 A3.35 3.1 20 1 1 141.25 618.2" stroke-width="0.95"/>
<path d="M144.49 621.69 A2.15 1.98 20 1 1 143.94 619.14" stroke-width="0.95"/>
<path d="M97.87 654.33 A7.1 6.39 20 1 1 84.53 649.47 A7.1 6.39 20 1 1 97.87 654.33 Z"/>
<path d="M94.34 656.37 A5.54 5.11 20 1 1 90.78 646.45" stroke-width="0.95"/>
<path d="M96.14 652.21 A3.55 3.27 20 1 1 95.24 648.01" stroke-width="0.95"/>
<path d="M155.48 660.06 A6.9 6.21 20 1 1 142.52 655.34 A6.9 6.21 20 1 1 155.48 660.06 Z"/>
<path d="M152.05 662.05 A5.38 4.97 20 1 1 148.6 652.41" stroke-width="0.95"/>
<path d="M153.8 658 A3.45 3.17 20 1 1 152.92 653.92" stroke-width="0.95"/>
<path d="M129.26 684.9 A7.3 6.57 20 1 1 115.54 679.9 A7.3 6.57 20 1 1 129.26 684.9 Z"/>
<path d="M125.63 687 A5.69 5.26 20 1 1 121.97 676.8" stroke-width="0.95"/>
<path d="M127.48 682.72 A3.65 3.36 20 1 1 126.55 678.4" stroke-width="0.95"/>
<path d="M89.84 684.77 A4.3 3.7 20 1 1 81.76 681.83 A4.3 3.7 20 1 1 89.84 684.77 Z"/>
<path d="M83.86 680.63 C84.29 680.86 85.61 681.48 86.44 682.01 C87.28 682.54 88.49 683.51 88.9 683.82" stroke-width="0.9"/>
<path d="M127.04 698.87 A4.3 3.7 20 1 1 118.96 695.93 A4.3 3.7 20 1 1 127.04 698.87 Z"/>
<path d="M121.06 694.73 C121.5 694.96 122.81 695.58 123.64 696.11 C124.48 696.64 125.69 697.62 126.1 697.92" stroke-width="0.9"/>
<path d="M163.15 692.44 A4.2 3.61 20 1 1 155.25 689.56 A4.2 3.61 20 1 1 163.15 692.44 Z"/>
<path d="M157.31 688.4 C157.73 688.62 159.01 689.22 159.83 689.74 C160.65 690.26 161.82 691.21 162.22 691.5" stroke-width="0.9"/>
<path d="M99.5 632.5 L140.2 635.5 L141.9 677.3 L101.4 673.3Z"/>
<path d="M109.2 633.4 L110.6 662.8 L141.3 665.8"/>
<path d="M110.6 662.8 L101.4 673.3"/>
</g>
<g id="v2">
<g transform="translate(192,0)">
<path d="M68.9 600.2 C67.3 602.28 62.18 607.72 59.3 612.7 C56.42 617.68 53.33 624.72 51.6 630.1 C49.87 635.48 49.08 640.13 48.9 645 C48.72 649.87 49.55 655.05 50.5 659.3 C51.45 663.55 52.95 667.05 54.6 670.5 C56.25 673.95 58.5 676.8 60.4 680 C62.3 683.2 64.07 687.07 66 689.7 C67.93 692.33 68.78 692.8 72 695.8 C75.22 698.8 83.08 705.72 85.3 707.7"/>
<path d="M70.5 603 C69.05 604.92 64.47 609.92 61.8 614.5 C59.13 619.08 56.17 625.42 54.5 630.5 C52.83 635.58 52.02 640.33 51.8 645 C51.58 649.67 52.27 654.33 53.2 658.5 C54.13 662.67 55.73 666.5 57.4 670 C59.07 673.5 61.3 676.45 63.2 679.5 C65.1 682.55 67 685.88 68.8 688.3 C70.6 690.72 71.1 690.95 74 694 C76.9 697.05 84.17 704.5 86.2 706.6"/>
<path d="M85.3 707.7 L162.5 716.5"/>
<path d="M166.2 614.6 C167.55 616.48 171.6 621.58 174.3 625.9 C177 630.22 180.23 635.35 182.4 640.5 C184.57 645.65 186.35 651.38 187.3 656.8 C188.25 662.22 188.5 667.6 188.1 673 C187.7 678.4 186.93 684.07 184.9 689.2 C182.87 694.33 179.82 699.35 175.9 703.8 C171.98 708.25 163.82 713.88 161.4 715.9"/>
<path d="M168.6 613.8 C170.1 615.55 174.62 620.12 177.6 624.3 C180.58 628.48 184.2 633.77 186.5 638.9 C188.8 644.03 190.4 649.68 191.4 655.1 C192.4 660.52 192.78 665.98 192.5 671.4 C192.22 676.82 191.52 682.47 189.7 687.6 C187.88 692.73 185.65 697.4 181.6 702.2 C177.55 707 168.1 714.03 165.4 716.4"/>
<path d="M173.5 613 C174.98 614.88 179.57 619.98 182.4 624.3 C185.23 628.62 188.33 633.48 190.5 638.9 C192.67 644.32 194.53 651.67 195.4 656.8 C196.27 661.93 195.97 665.65 195.7 669.7 C195.43 673.75 194.7 678.22 193.8 681.1 C192.9 683.98 190.88 686.02 190.3 687"/>
<path d="M161.4 715.9 L165.4 716.4"/>
<path d="M166.22 614.59 C166.35 614.19 166.27 612.76 167.03 612.16 C167.78 611.57 169.59 610.84 170.76 611.03 C171.92 611.22 173.46 612.92 174 613.3"/>
<path d="M69.08 600.34 C70.64 598.9 74.29 594.34 78.47 591.73 C82.64 589.13 88.9 586.26 94.11 584.69 C99.33 583.13 104.02 582.22 109.76 582.35 C115.49 582.48 122.53 583.78 128.53 585.48 C134.53 587.17 140.26 589.78 145.74 592.52 C151.21 595.25 157.99 599.56 161.38 601.9 C164.77 604.25 165.29 605.81 166.08 606.6"/>
<path d="M69.86 601.9 C71.56 600.47 75.73 595.77 80.03 593.3 C84.33 590.82 90.72 588.42 95.68 587.04 C100.63 585.66 104.54 584.88 109.76 585.01 C114.97 585.14 121.23 586.18 126.96 587.82 C132.7 589.46 138.96 592.25 144.17 594.86 C149.39 597.47 155.13 601.12 158.25 603.47 C161.38 605.81 162.17 608.03 162.95 608.94"/>
<path d="M70.64 604.25 C73.25 602.55 81.07 596.51 86.29 594.08 C91.5 591.66 96.72 590.43 101.93 589.7 C107.15 588.97 112.36 588.97 117.58 589.7 C122.79 590.43 128.01 592.05 133.22 594.08 C138.44 596.11 143.91 599.03 148.87 601.9 C153.82 604.77 160.6 609.72 162.95 611.29"/>
<path d="M166.08 606.6 C166.23 607.25 167.28 609.46 167.02 610.51 C166.75 611.55 164.93 612.46 164.51 612.85"/>
<path d="M162.95 608.94 L163.73 612.38"/>
<path d="M69.08 600.34 L69.39 603.78"/>
<path d="M76.9 611.29 L155.13 619.89"/>
<path d="M69.08 603.47 L76.9 611.29" stroke-width="2"/>
<path d="M76.9 611.29 L100.84 631.16"/>
<path d="M69.39 605.5 L88.57 624.05"/>
<path d="M164.51 612.85 L147.54 628.19"/>
<path d="M162.95 612.38 L155.13 619.89"/>
<path d="M166.39 614.11 L146.68 631.41"/>
<path d="M97.39 601.13 A6.8 6.12 20 1 1 84.61 596.47 A6.8 6.12 20 1 1 97.39 601.13 Z"/>
<path d="M94.01 603.08 A5.3 4.9 20 1 1 90.6 593.58" stroke-width="0.95"/>
<path d="M95.73 599.1 A3.4 3.13 20 1 1 94.87 595.08" stroke-width="0.95"/>
<path d="M122.39 606.53 A6.8 6.12 20 1 1 109.61 601.87 A6.8 6.12 20 1 1 122.39 606.53 Z"/>
<path d="M119.01 608.48 A5.3 4.9 20 1 1 115.6 598.98" stroke-width="0.95"/>
<path d="M120.73 604.5 A3.4 3.13 20 1 1 119.87 600.48" stroke-width="0.95"/>
<path d="M147.39 605.03 A6.8 6.12 20 1 1 134.61 600.37 A6.8 6.12 20 1 1 147.39 605.03 Z"/>
<path d="M144.01 606.98 A5.3 4.9 20 1 1 140.6 597.48" stroke-width="0.95"/>
<path d="M145.73 603 A3.4 3.13 20 1 1 144.87 598.98" stroke-width="0.95"/>
<path d="M104.96 606.67 A4 3.44 20 1 1 97.44 603.93 A4 3.44 20 1 1 104.96 606.67 Z"/>
<path d="M99.4 602.82 C99.8 603.03 101.02 603.61 101.8 604.1 C102.58 604.59 103.7 605.5 104.08 605.78" stroke-width="0.9"/>
<path d="M135.46 610.27 A4 3.44 20 1 1 127.94 607.53 A4 3.44 20 1 1 135.46 610.27 Z"/>
<path d="M129.9 606.42 C130.3 606.63 131.52 607.21 132.3 607.7 C133.08 608.19 134.2 609.1 134.58 609.38" stroke-width="0.9"/>
<path d="M96.63 617.2 A4.4 3.96 20 1 1 88.37 614.2 A4.4 3.96 20 1 1 96.63 617.2 Z"/>
<path d="M94.45 618.47 A3.43 3.17 20 1 1 92.24 612.32" stroke-width="0.95"/>
<path d="M95.56 615.89 A2.2 2.02 20 1 1 95 613.29" stroke-width="0.95"/>
<path d="M145.54 622.97 A4.3 3.87 20 1 1 137.46 620.03 A4.3 3.87 20 1 1 145.54 622.97 Z"/>
<path d="M143.4 624.21 A3.35 3.1 20 1 1 141.25 618.2" stroke-width="0.95"/>
<path d="M144.49 621.69 A2.15 1.98 20 1 1 143.94 619.14" stroke-width="0.95"/>
<path d="M89.84 684.77 A4.3 3.7 20 1 1 81.76 681.83 A4.3 3.7 20 1 1 89.84 684.77 Z"/>
<path d="M83.86 680.63 C84.29 680.86 85.61 681.48 86.44 682.01 C87.28 682.54 88.49 683.51 88.9 683.82" stroke-width="0.9"/>
<path d="M127.04 698.87 A4.3 3.7 20 1 1 118.96 695.93 A4.3 3.7 20 1 1 127.04 698.87 Z"/>
<path d="M121.06 694.73 C121.5 694.96 122.81 695.58 123.64 696.11 C124.48 696.64 125.69 697.62 126.1 697.92" stroke-width="0.9"/>
<path d="M163.15 692.44 A4.2 3.61 20 1 1 155.25 689.56 A4.2 3.61 20 1 1 163.15 692.44 Z"/>
<path d="M157.31 688.4 C157.73 688.62 159.01 689.22 159.83 689.74 C160.65 690.26 161.82 691.21 162.22 691.5" stroke-width="0.9"/>
<path d="M85.9 635.49 A6.7 6.03 20 1 1 73.3 630.91 A6.7 6.03 20 1 1 85.9 635.49 Z"/>
<path d="M82.56 637.42 A5.23 4.82 20 1 1 79.21 628.06" stroke-width="0.95"/>
<path d="M84.26 633.49 A3.35 3.08 20 1 1 83.41 629.53" stroke-width="0.95"/>
<path d="M163.7 643.99 A6.7 6.03 20 1 1 151.1 639.41 A6.7 6.03 20 1 1 163.7 643.99 Z"/>
<path d="M160.36 645.92 A5.23 4.82 20 1 1 157.01 636.56" stroke-width="0.95"/>
<path d="M162.06 641.99 A3.35 3.08 20 1 1 161.21 638.03" stroke-width="0.95"/>
<path d="M107.3 675.29 A6.7 6.03 20 1 1 94.7 670.71 A6.7 6.03 20 1 1 107.3 675.29 Z"/>
<path d="M103.96 677.22 A5.23 4.82 20 1 1 100.61 667.86" stroke-width="0.95"/>
<path d="M105.66 673.29 A3.35 3.08 20 1 1 104.81 669.33" stroke-width="0.95"/>
<path d="M148.1 679.69 A6.7 6.03 20 1 1 135.5 675.11 A6.7 6.03 20 1 1 148.1 679.69 Z"/>
<path d="M144.76 681.62 A5.23 4.82 20 1 1 141.41 672.26" stroke-width="0.95"/>
<path d="M146.46 677.69 A3.35 3.08 20 1 1 145.61 673.73" stroke-width="0.95"/>
<path d="M88.65 623.84 L89.86 651.52 L121.74 682.8 L148.82 658.13 L147.98 631.06"/>
<path d="M99.36 629.61 L108.27 635.51 L119.34 625.4 L136.19 638.88 L147.98 630.7"/>
<path d="M100.08 630.22 L101.05 641.53 L89.86 651.52"/>
<path d="M101.05 641.53 L132.58 671.97 L148.82 656.69"/>
<path d="M132.58 671.97 L131.97 672.94"/>
<path d="M91.66 624.44 L94.31 626.37 L92.38 628.29Z" fill="#241d1d"/>
</g>
</g>
<g id="v6">
<g transform="translate(390,0)">
<path d="M68.9 600.2 C67.3 602.28 62.18 607.72 59.3 612.7 C56.42 617.68 53.33 624.72 51.6 630.1 C49.87 635.48 49.08 640.13 48.9 645 C48.72 649.87 49.55 655.05 50.5 659.3 C51.45 663.55 52.95 667.05 54.6 670.5 C56.25 673.95 58.5 676.8 60.4 680 C62.3 683.2 64.07 687.07 66 689.7 C67.93 692.33 68.78 692.8 72 695.8 C75.22 698.8 83.08 705.72 85.3 707.7"/>
<path d="M70.5 603 C69.05 604.92 64.47 609.92 61.8 614.5 C59.13 619.08 56.17 625.42 54.5 630.5 C52.83 635.58 52.02 640.33 51.8 645 C51.58 649.67 52.27 654.33 53.2 658.5 C54.13 662.67 55.73 666.5 57.4 670 C59.07 673.5 61.3 676.45 63.2 679.5 C65.1 682.55 67 685.88 68.8 688.3 C70.6 690.72 71.1 690.95 74 694 C76.9 697.05 84.17 704.5 86.2 706.6"/>
<path d="M85.3 707.7 L162.5 716.5"/>
<path d="M166.2 614.6 C167.55 616.48 171.6 621.58 174.3 625.9 C177 630.22 180.23 635.35 182.4 640.5 C184.57 645.65 186.35 651.38 187.3 656.8 C188.25 662.22 188.5 667.6 188.1 673 C187.7 678.4 186.93 684.07 184.9 689.2 C182.87 694.33 179.82 699.35 175.9 703.8 C171.98 708.25 163.82 713.88 161.4 715.9"/>
<path d="M168.6 613.8 C170.1 615.55 174.62 620.12 177.6 624.3 C180.58 628.48 184.2 633.77 186.5 638.9 C188.8 644.03 190.4 649.68 191.4 655.1 C192.4 660.52 192.78 665.98 192.5 671.4 C192.22 676.82 191.52 682.47 189.7 687.6 C187.88 692.73 185.65 697.4 181.6 702.2 C177.55 707 168.1 714.03 165.4 716.4"/>
<path d="M173.5 613 C174.98 614.88 179.57 619.98 182.4 624.3 C185.23 628.62 188.33 633.48 190.5 638.9 C192.67 644.32 194.53 651.67 195.4 656.8 C196.27 661.93 195.97 665.65 195.7 669.7 C195.43 673.75 194.7 678.22 193.8 681.1 C192.9 683.98 190.88 686.02 190.3 687"/>
<path d="M161.4 715.9 L165.4 716.4"/>
<path d="M166.22 614.59 C166.35 614.19 166.27 612.76 167.03 612.16 C167.78 611.57 169.59 610.84 170.76 611.03 C171.92 611.22 173.46 612.92 174 613.3"/>
<path d="M69.08 600.34 C70.64 598.9 74.29 594.34 78.47 591.73 C82.64 589.13 88.9 586.26 94.11 584.69 C99.33 583.13 104.02 582.22 109.76 582.35 C115.49 582.48 122.53 583.78 128.53 585.48 C134.53 587.17 140.26 589.78 145.74 592.52 C151.21 595.25 157.99 599.56 161.38 601.9 C164.77 604.25 165.29 605.81 166.08 606.6"/>
<path d="M69.86 601.9 C71.56 600.47 75.73 595.77 80.03 593.3 C84.33 590.82 90.72 588.42 95.68 587.04 C100.63 585.66 104.54 584.88 109.76 585.01 C114.97 585.14 121.23 586.18 126.96 587.82 C132.7 589.46 138.96 592.25 144.17 594.86 C149.39 597.47 155.13 601.12 158.25 603.47 C161.38 605.81 162.17 608.03 162.95 608.94"/>
<path d="M70.64 604.25 C73.25 602.55 81.07 596.51 86.29 594.08 C91.5 591.66 96.72 590.43 101.93 589.7 C107.15 588.97 112.36 588.97 117.58 589.7 C122.79 590.43 128.01 592.05 133.22 594.08 C138.44 596.11 143.91 599.03 148.87 601.9 C153.82 604.77 160.6 609.72 162.95 611.29"/>
<path d="M166.08 606.6 C166.23 607.25 167.28 609.46 167.02 610.51 C166.75 611.55 164.93 612.46 164.51 612.85"/>
<path d="M162.95 608.94 L163.73 612.38"/>
<path d="M69.08 600.34 L69.39 603.78"/>
<path d="M76.9 611.29 L155.13 619.89"/>
<path d="M69.08 603.47 L76.9 611.29" stroke-width="2"/>
<path d="M76.9 611.29 L91.26 623.21"/>
<path d="M69.39 605.5 L90.01 625.44"/>
<path d="M164.51 612.85 L140.26 634.76"/>
<path d="M162.95 612.38 L155.13 619.89"/>
<path d="M166.39 614.11 L138.23 638.82"/>
<path d="M97.39 601.13 A6.8 6.12 20 1 1 84.61 596.47 A6.8 6.12 20 1 1 97.39 601.13 Z"/>
<path d="M94.01 603.08 A5.3 4.9 20 1 1 90.6 593.58" stroke-width="0.95"/>
<path d="M95.73 599.1 A3.4 3.13 20 1 1 94.87 595.08" stroke-width="0.95"/>
<path d="M122.39 606.53 A6.8 6.12 20 1 1 109.61 601.87 A6.8 6.12 20 1 1 122.39 606.53 Z"/>
<path d="M119.01 608.48 A5.3 4.9 20 1 1 115.6 598.98" stroke-width="0.95"/>
<path d="M120.73 604.5 A3.4 3.13 20 1 1 119.87 600.48" stroke-width="0.95"/>
<path d="M147.39 605.03 A6.8 6.12 20 1 1 134.61 600.37 A6.8 6.12 20 1 1 147.39 605.03 Z"/>
<path d="M144.01 606.98 A5.3 4.9 20 1 1 140.6 597.48" stroke-width="0.95"/>
<path d="M145.73 603 A3.4 3.13 20 1 1 144.87 598.98" stroke-width="0.95"/>
<path d="M104.96 606.67 A4 3.44 20 1 1 97.44 603.93 A4 3.44 20 1 1 104.96 606.67 Z"/>
<path d="M99.4 602.82 C99.8 603.03 101.02 603.61 101.8 604.1 C102.58 604.59 103.7 605.5 104.08 605.78" stroke-width="0.9"/>
<path d="M135.46 610.27 A4 3.44 20 1 1 127.94 607.53 A4 3.44 20 1 1 135.46 610.27 Z"/>
<path d="M129.9 606.42 C130.3 606.63 131.52 607.21 132.3 607.7 C133.08 608.19 134.2 609.1 134.58 609.38" stroke-width="0.9"/>
<path d="M96.63 617.2 A4.4 3.96 20 1 1 88.37 614.2 A4.4 3.96 20 1 1 96.63 617.2 Z"/>
<path d="M94.45 618.47 A3.43 3.17 20 1 1 92.24 612.32" stroke-width="0.95"/>
<path d="M95.56 615.89 A2.2 2.02 20 1 1 95 613.29" stroke-width="0.95"/>
<path d="M145.54 622.97 A4.3 3.87 20 1 1 137.46 620.03 A4.3 3.87 20 1 1 145.54 622.97 Z"/>
<path d="M143.4 624.21 A3.35 3.1 20 1 1 141.25 618.2" stroke-width="0.95"/>
<path d="M144.49 621.69 A2.15 1.98 20 1 1 143.94 619.14" stroke-width="0.95"/>
<path d="M89.84 684.77 A4.3 3.7 20 1 1 81.76 681.83 A4.3 3.7 20 1 1 89.84 684.77 Z"/>
<path d="M83.86 680.63 C84.29 680.86 85.61 681.48 86.44 682.01 C87.28 682.54 88.49 683.51 88.9 683.82" stroke-width="0.9"/>
<path d="M127.04 698.87 A4.3 3.7 20 1 1 118.96 695.93 A4.3 3.7 20 1 1 127.04 698.87 Z"/>
<path d="M121.06 694.73 C121.5 694.96 122.81 695.58 123.64 696.11 C124.48 696.64 125.69 697.62 126.1 697.92" stroke-width="0.9"/>
<path d="M163.15 692.44 A4.2 3.61 20 1 1 155.25 689.56 A4.2 3.61 20 1 1 163.15 692.44 Z"/>
<path d="M157.31 688.4 C157.73 688.62 159.01 689.22 159.83 689.74 C160.65 690.26 161.82 691.21 162.22 691.5" stroke-width="0.9"/>
<path d="M85.9 635.49 A6.7 6.03 20 1 1 73.3 630.91 A6.7 6.03 20 1 1 85.9 635.49 Z"/>
<path d="M82.56 637.42 A5.23 4.82 20 1 1 79.21 628.06" stroke-width="0.95"/>
<path d="M84.26 633.49 A3.35 3.08 20 1 1 83.41 629.53" stroke-width="0.95"/>
<path d="M163.7 643.99 A6.7 6.03 20 1 1 151.1 639.41 A6.7 6.03 20 1 1 163.7 643.99 Z"/>
<path d="M160.36 645.92 A5.23 4.82 20 1 1 157.01 636.56" stroke-width="0.95"/>
<path d="M162.06 641.99 A3.35 3.08 20 1 1 161.21 638.03" stroke-width="0.95"/>
<path d="M107.3 675.29 A6.7 6.03 20 1 1 94.7 670.71 A6.7 6.03 20 1 1 107.3 675.29 Z"/>
<path d="M103.96 677.22 A5.23 4.82 20 1 1 100.61 667.86" stroke-width="0.95"/>
<path d="M105.66 673.29 A3.35 3.08 20 1 1 104.81 669.33" stroke-width="0.95"/>
<path d="M148.1 679.69 A6.7 6.03 20 1 1 135.5 675.11 A6.7 6.03 20 1 1 148.1 679.69 Z"/>
<path d="M144.76 681.62 A5.23 4.82 20 1 1 141.41 672.26" stroke-width="0.95"/>
<path d="M146.46 677.69 A3.35 3.08 20 1 1 145.61 673.73" stroke-width="0.95"/>
<path d="M90.1 625.9 L91.5 642.3 L115.3 682 L126.2 683.2 L146 648.3 L144.2 632.3"/>
<path d="M90.1 625.9 L102.1 633 L139.4 635.3"/>
<path d="M91.5 642.3 L102.1 633 L125 670.8 L115.3 682"/>
<path d="M125 670.8 L131.9 671.6 L126.2 683.2"/>
</g>
</g>
<g id="v7">
<g transform="translate(580,0)">
<path d="M68.9 600.2 C67.3 602.28 62.18 607.72 59.3 612.7 C56.42 617.68 53.33 624.72 51.6 630.1 C49.87 635.48 49.08 640.13 48.9 645 C48.72 649.87 49.55 655.05 50.5 659.3 C51.45 663.55 52.95 667.05 54.6 670.5 C56.25 673.95 58.5 676.8 60.4 680 C62.3 683.2 64.07 687.07 66 689.7 C67.93 692.33 68.78 692.8 72 695.8 C75.22 698.8 83.08 705.72 85.3 707.7"/>
<path d="M70.5 603 C69.05 604.92 64.47 609.92 61.8 614.5 C59.13 619.08 56.17 625.42 54.5 630.5 C52.83 635.58 52.02 640.33 51.8 645 C51.58 649.67 52.27 654.33 53.2 658.5 C54.13 662.67 55.73 666.5 57.4 670 C59.07 673.5 61.3 676.45 63.2 679.5 C65.1 682.55 67 685.88 68.8 688.3 C70.6 690.72 71.1 690.95 74 694 C76.9 697.05 84.17 704.5 86.2 706.6"/>
<path d="M85.3 707.7 L162.5 716.5"/>
<path d="M166.2 614.6 C167.55 616.48 171.6 621.58 174.3 625.9 C177 630.22 180.23 635.35 182.4 640.5 C184.57 645.65 186.35 651.38 187.3 656.8 C188.25 662.22 188.5 667.6 188.1 673 C187.7 678.4 186.93 684.07 184.9 689.2 C182.87 694.33 179.82 699.35 175.9 703.8 C171.98 708.25 163.82 713.88 161.4 715.9"/>
<path d="M168.6 613.8 C170.1 615.55 174.62 620.12 177.6 624.3 C180.58 628.48 184.2 633.77 186.5 638.9 C188.8 644.03 190.4 649.68 191.4 655.1 C192.4 660.52 192.78 665.98 192.5 671.4 C192.22 676.82 191.52 682.47 189.7 687.6 C187.88 692.73 185.65 697.4 181.6 702.2 C177.55 707 168.1 714.03 165.4 716.4"/>
<path d="M173.5 613 C174.98 614.88 179.57 619.98 182.4 624.3 C185.23 628.62 188.33 633.48 190.5 638.9 C192.67 644.32 194.53 651.67 195.4 656.8 C196.27 661.93 195.97 665.65 195.7 669.7 C195.43 673.75 194.7 678.22 193.8 681.1 C192.9 683.98 190.88 686.02 190.3 687"/>
<path d="M161.4 715.9 L165.4 716.4"/>
<path d="M166.22 614.59 C166.35 614.19 166.27 612.76 167.03 612.16 C167.78 611.57 169.59 610.84 170.76 611.03 C171.92 611.22 173.46 612.92 174 613.3"/>
<path d="M69.08 601.99 C70.64 600.62 74.29 596.24 78.47 593.79 C82.64 591.35 88.9 588.74 94.11 587.32 C99.33 585.91 104.02 585.13 109.76 585.3 C115.49 585.48 122.53 586.78 128.53 588.39 C134.53 590 140.26 592.43 145.74 594.99 C151.21 597.55 157.99 601.54 161.38 603.75 C164.77 605.96 165.29 607.5 166.08 608.25"/>
<path d="M69.86 603.59 C71.56 602.23 75.73 597.73 80.03 595.42 C84.33 593.11 90.72 590.96 95.68 589.72 C100.63 588.47 104.54 587.79 109.76 587.96 C114.97 588.14 121.23 589.19 126.96 590.76 C132.7 592.33 138.96 594.94 144.17 597.39 C149.39 599.84 155.13 603.23 158.25 605.45 C161.38 607.67 162.17 609.85 162.95 610.73"/>
<path d="M70.64 605.97 C73.25 604.38 81.07 598.69 86.29 596.45 C91.5 594.21 96.72 593.16 101.93 592.53 C107.15 591.91 112.36 591.97 117.58 592.7 C122.79 593.43 128.01 594.98 133.22 596.91 C138.44 598.84 143.91 601.57 148.87 604.26 C153.82 606.96 160.6 611.6 162.95 613.07"/>
<path d="M166.08 608.25 C166.23 608.9 167.28 611.1 167.02 612.16 C166.75 613.21 164.93 614.17 164.51 614.57"/>
<path d="M162.95 610.73 L163.73 614.13"/>
<path d="M69.08 601.99 L69.39 605.45"/>
<path d="M76.9 612.09 L155.13 620.74"/>
<path d="M69.08 604.29 L76.9 612.28" stroke-width="2"/>
<path d="M76.9 611.29 L107.3 636.52"/>
<path d="M69.39 605.5 L91.72 627.1"/>
<path d="M164.51 612.85 L138.32 636.51"/>
<path d="M162.95 612.38 L155.13 619.89"/>
<path d="M166.39 614.11 L135.98 640.8"/>
<path d="M97.39 602.33 A6.8 6.12 20 1 1 84.61 597.67 A6.8 6.12 20 1 1 97.39 602.33 Z"/>
<path d="M94.01 604.28 A5.3 4.9 20 1 1 90.6 594.78" stroke-width="0.95"/>
<path d="M95.73 600.3 A3.4 3.13 20 1 1 94.87 596.28" stroke-width="0.95"/>
<path d="M121.99 607.73 A6.8 6.12 20 1 1 109.21 603.07 A6.8 6.12 20 1 1 121.99 607.73 Z"/>
<path d="M118.61 609.68 A5.3 4.9 20 1 1 115.2 600.18" stroke-width="0.95"/>
<path d="M120.33 605.7 A3.4 3.13 20 1 1 119.47 601.68" stroke-width="0.95"/>
<path d="M146.99 606.33 A6.8 6.12 20 1 1 134.21 601.67 A6.8 6.12 20 1 1 146.99 606.33 Z"/>
<path d="M143.61 608.28 A5.3 4.9 20 1 1 140.2 598.78" stroke-width="0.95"/>
<path d="M145.33 604.3 A3.4 3.13 20 1 1 144.47 600.28" stroke-width="0.95"/>
<path d="M104.96 607.87 A4 3.44 20 1 1 97.44 605.13 A4 3.44 20 1 1 104.96 607.87 Z"/>
<path d="M99.4 604.02 C99.8 604.23 101.02 604.81 101.8 605.3 C102.58 605.79 103.7 606.7 104.08 606.98" stroke-width="0.9"/>
<path d="M135.26 611.37 A4 3.44 20 1 1 127.74 608.63 A4 3.44 20 1 1 135.26 611.37 Z"/>
<path d="M129.7 607.52 C130.1 607.73 131.32 608.31 132.1 608.8 C132.88 609.29 134 610.2 134.38 610.48" stroke-width="0.9"/>
<path d="M96.63 618.5 A4.4 3.96 20 1 1 88.37 615.5 A4.4 3.96 20 1 1 96.63 618.5 Z"/>
<path d="M94.45 619.77 A3.43 3.17 20 1 1 92.24 613.62" stroke-width="0.95"/>
<path d="M95.56 617.19 A2.2 2.02 20 1 1 95 614.59" stroke-width="0.95"/>
<path d="M145.24 624.07 A4.3 3.87 20 1 1 137.16 621.13 A4.3 3.87 20 1 1 145.24 624.07 Z"/>
<path d="M143.1 625.31 A3.35 3.1 20 1 1 140.95 619.3" stroke-width="0.95"/>
<path d="M144.19 622.79 A2.15 1.98 20 1 1 143.64 620.24" stroke-width="0.95"/>
<path d="M95.49 657.36 A6 5.4 20 1 1 84.22 653.26 A6 5.4 20 1 1 95.49 657.36 Z"/>
<path d="M92.51 659.09 A4.68 4.32 20 1 1 89.5 650.71" stroke-width="0.95"/>
<path d="M94.03 655.57 A3 2.76 20 1 1 93.27 652.03" stroke-width="0.95"/>
<path d="M151.45 663.98 A6 5.4 20 1 1 140.17 659.88 A6 5.4 20 1 1 151.45 663.98 Z"/>
<path d="M148.47 665.71 A4.68 4.32 20 1 1 145.46 657.33" stroke-width="0.95"/>
<path d="M149.98 662.19 A3 2.76 20 1 1 149.22 658.65" stroke-width="0.95"/>
<path d="M125.86 687.55 A6.3 5.67 20 1 1 114.02 683.24 A6.3 5.67 20 1 1 125.86 687.55 Z"/>
<path d="M122.73 689.36 A4.91 4.54 20 1 1 119.57 680.56" stroke-width="0.95"/>
<path d="M124.32 685.67 A3.15 2.9 20 1 1 123.52 681.95" stroke-width="0.95"/>
<path d="M89.4 684.96 A4 3.44 20 1 1 81.89 682.22 A4 3.44 20 1 1 89.4 684.96 Z"/>
<path d="M83.84 681.11 C84.24 681.33 85.46 681.9 86.24 682.39 C87.02 682.89 88.14 683.79 88.52 684.07" stroke-width="0.9"/>
<path d="M161.97 692.42 A4 3.44 20 1 1 154.45 689.68 A4 3.44 20 1 1 161.97 692.42 Z"/>
<path d="M156.41 688.57 C156.81 688.79 158.03 689.36 158.81 689.85 C159.59 690.35 160.71 691.25 161.09 691.53" stroke-width="0.9"/>
<path d="M126.71 698.2 A4 3.44 20 1 1 119.19 695.46 A4 3.44 20 1 1 126.71 698.2 Z"/>
<path d="M121.15 694.35 C121.55 694.56 122.77 695.14 123.55 695.63 C124.33 696.12 125.45 697.03 125.83 697.31" stroke-width="0.9"/>
<path d="M145.62 633.43 A40 35.2 40.8 1 1 90.1 627.28"/>
<path d="M143.41 637.26 C144.81 638.81 150.02 643.22 151.83 646.53 C153.63 649.84 154.2 653.35 154.24 657.12 C154.28 660.89 153.63 665.18 152.07 669.15 C150.51 673.12 147.9 677.54 144.85 680.94 C141.8 684.35 135.62 688.16 133.78 689.61"/>
<path d="M89.86 627.03 L91.42 631.25 L95.87 636.06 L99.84 632.81"/>
<path d="M91.42 631.25 L94.67 628.48"/>
<path d="M95.87 636.06 C95.91 636.93 96.64 651.73 96.71 653.51 C96.79 655.28 97.15 670.39 97.44 671.56 C97.73 672.73 101.46 676.61 102.49 676.97 C103.53 677.33 116.48 678.6 118.13 678.78 C119.79 678.96 134.53 680.64 135.58 680.58 C136.64 680.52 138.98 677.85 139.19 677.58 C139.4 677.3 139.77 675.29 139.8 675.17"/>
<path d="M100.08 633.05 L101.53 667.95 L105.5 672.76 L139.19 675.89"/>
<path d="M101.53 667.95 L97.44 671.56"/>
<path d="M105.5 672.76 L102.49 676.97"/>
<path d="M135.94 640.51 L139.19 677.58"/>
<path d="M137.31 667.87 A21.2 18.8 35 1 1 135.9 640.91"/>
<path d="M110.31 637.26 C110.41 638.77 110.01 643.18 110.91 646.29 C111.82 649.4 113.72 653.31 115.73 655.91 C117.73 658.52 120.34 660.53 122.95 661.93 C125.56 663.34 128.97 664.04 131.37 664.34 C133.78 664.64 136.39 663.84 137.39 663.74"/>
</g>
</g>
</svg>
</body></html>
